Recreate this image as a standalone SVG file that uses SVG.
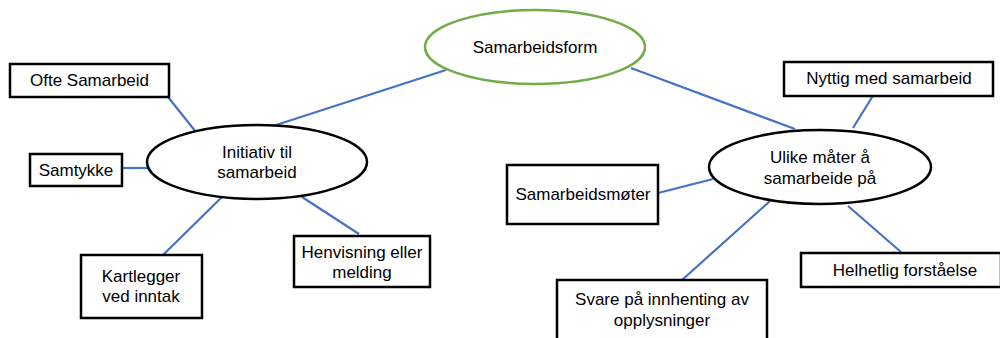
<svg xmlns="http://www.w3.org/2000/svg" width="1000" height="338" viewBox="0 0 1000 338">
<style>
.box{fill:#fff;stroke:#000;stroke-width:2.5}
.ell{fill:#fff;stroke:#000;stroke-width:2.5}
.root{fill:#fff;stroke:#70AD47;stroke-width:2.5}
.con line{stroke:#4472C4;stroke-width:2.2}
text{font-family:"Liberation Sans",Arial,sans-serif;font-size:17px;fill:#000;text-anchor:middle}
</style>
<rect width="1000" height="338" fill="#fff"/>
<g class="con">
<line x1="446" y1="70" x2="273" y2="126"/>
<line x1="168" y1="97" x2="196" y2="132"/>
<line x1="122" y1="168" x2="149" y2="168"/>
<line x1="163" y1="255" x2="223" y2="196"/>
<line x1="302" y1="197" x2="359" y2="234"/>
<line x1="631" y1="68" x2="795" y2="129"/>
<line x1="874" y1="94" x2="853" y2="128"/>
<line x1="658" y1="193" x2="713" y2="179"/>
<line x1="682" y1="280" x2="770" y2="201"/>
<line x1="848" y1="206" x2="901" y2="252"/>
</g>
<g id="samarbeidsform"><ellipse class="root" cx="535" cy="47" rx="110" ry="37"/><text x="535" y="53">Samarbeidsform</text></g>
<g id="initiativ"><ellipse class="ell" cx="257" cy="162" rx="110" ry="37"/><text x="257" y="158">Initiativ til</text><text x="257" y="178">samarbeid</text></g>
<g id="ofte"><rect class="box" x="10" y="64" width="159" height="33"/><text x="89.5" y="86">Ofte Samarbeid</text></g>
<g id="samtykke"><rect class="box" x="30" y="154" width="92" height="32"/><text x="76" y="176">Samtykke</text></g>
<g id="kartlegger"><rect class="box" x="81" y="255" width="121" height="63"/><text x="141" y="282">Kartlegger</text><text x="141" y="302">ved inntak</text></g>
<g id="henvisning"><rect class="box" x="294" y="236" width="136" height="51"/><text x="362" y="258">Henvisning eller</text><text x="362" y="278">melding</text></g>
<g id="ulike"><ellipse class="ell" cx="820" cy="167" rx="111" ry="37"/><text x="820" y="163">Ulike måter å</text><text x="820" y="184">samarbeide på</text></g>
<g id="nyttig"><rect class="box" x="784" y="62" width="209" height="34"/><text x="889" y="84">Nyttig med samarbeid</text></g>
<g id="moter"><rect class="box" x="507" y="165" width="151" height="59"/><text x="583" y="200">Samarbeidsmøter</text></g>
<g id="helhetlig"><rect class="box" x="801" y="253" width="200" height="34"/><text x="905" y="276">Helhetlig forståelse</text></g>
<g id="svare"><rect class="box" x="557" y="280" width="210" height="64"/><text x="662" y="305">Svare på innhenting av</text><text x="662" y="326">opplysninger</text></g>
</svg>
